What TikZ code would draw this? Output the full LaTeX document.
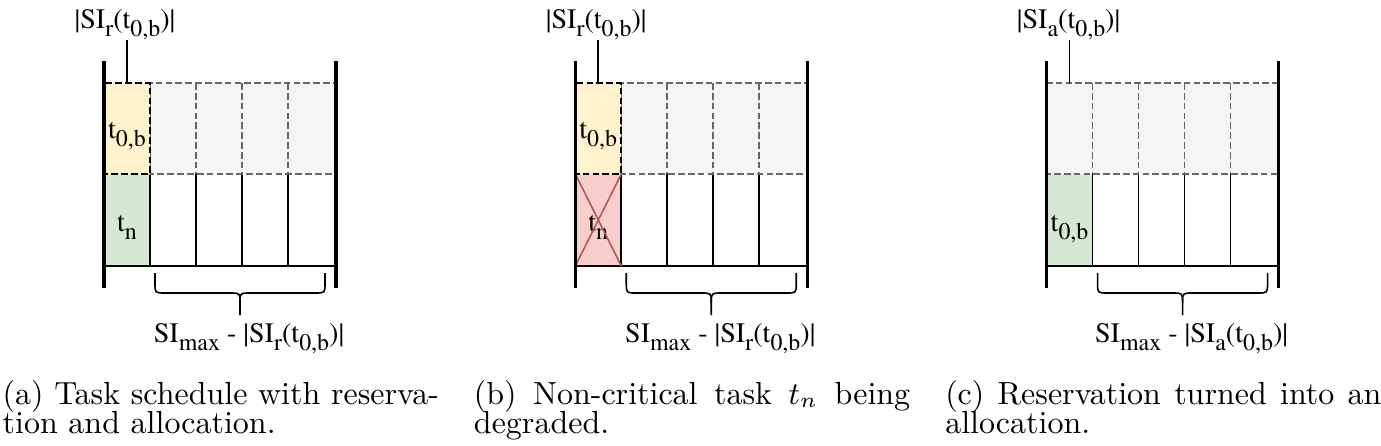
\documentclass[tikz,border=0pt]{standalone}
\usepackage{fontspec}
\usepackage{graphicx}
\newfontfamily\tnr{texgyretermes-regular.otf}
\newfontfamily\capf{lmroman10-regular.otf}
\definecolor{yfill}{HTML}{FFF2CC}
\definecolor{gfill}{HTML}{D5E8D4}
\definecolor{rfill}{HTML}{F8CECC}
\definecolor{rline}{HTML}{B85450}
\definecolor{lgray}{HTML}{F5F5F5}
\definecolor{dgray}{HTML}{666666}
\newcommand\dsub[1]{\raisebox{-2.3pt}{\fontsize{6.8}{7}\selectfont #1}}
\begin{document}
\begin{tikzpicture}[x=0.01cm,y=-0.01cm,
  bar/.style={line width=1pt},
  thinl/.style={line width=0.45pt},
  dsh/.style={line width=0.45pt, dash pattern=on 1.9pt off 0.9pt},
  lbl/.style={font=\tnr\fontsize{8}{9}\selectfont, inner sep=0pt, anchor=base},
  capt/.style={font=\capf\fontsize{9.1}{10}\selectfont, inner sep=0pt, anchor=base west},
  brace/.style={line width=0.45pt}]
\useasboundingbox (0,0) rectangle (1381,445);

% ---------- panel (a)
\begin{scope}
\fill[gfill] (104,174) rectangle (150,266);
\draw[thinl] (150,174) -- (150,266) (196,174) -- (196,266) (242,174) -- (242,266) (288,174) -- (288,266) (104,266) -- (336,266);
\filldraw[dsh, draw=dgray, fill=lgray] (150,83) rectangle (336,174);
\draw[dsh, draw=dgray] (196,83) -- (196,174) (242,83) -- (242,174) (288,83) -- (288,174);
\filldraw[dsh, draw=black, fill=yfill] (104,83) rectangle (150,174);
\node[lbl] (a0b) at (127,138) {t\dsub{0,b}};
\node[lbl] (atn) at (127,231) {t\dsub{n}};
\draw[bar] (104,61) -- (104,288) (336,61) -- (336,288);
\node[lbl] (atop) at (125,28) {|SI\dsub{r}(t\dsub{0,b})|};
\coordinate (alt) at (127,40);
\coordinate (alb) at (127,83);
\draw[thinl] (alt) -- (alb);
\draw[brace] (155,273) -- (155,283) .. controls (155,293) .. (165,293) -- (230,293) .. controls (240,293) .. (240,303) -- (240,315);
\draw[brace] (325,273) -- (325,283) .. controls (325,293) .. (315,293) -- (250,293) .. controls (240,293) .. (240,303);
\node[lbl] (abot) at (249,342) {SI\dsub{max} - |SI\dsub{r}(t\dsub{0,b})|};
\node[capt] (acap1) at (2,404) {\makebox[4.36cm][s]{(a) Task schedule with reserva-}};
\node[capt] (acap2) at (2,433) {tion and allocation.};
\end{scope}

% ---------- panel (b)
\begin{scope}[xshift=4.71cm]
\fill[rfill] (104,174) rectangle (150,266);
\draw[thinl] (150,174) -- (150,266) (196,174) -- (196,266) (242,174) -- (242,266) (288,174) -- (288,266) (104,266) -- (336,266);
\filldraw[dsh, draw=dgray, fill=lgray] (150,83) rectangle (336,174);
\draw[dsh, draw=dgray] (196,83) -- (196,174) (242,83) -- (242,174) (288,83) -- (288,174);
\filldraw[dsh, draw=black, fill=yfill] (104,83) rectangle (150,174);
\node[lbl] (b0b) at (127,138) {t\dsub{0,b}};
\node[lbl] (btn) at (127,231) {t\dsub{n}};
\draw[thinl, rline] (104,174) -- (150,266) (150,174) -- (104,266);
\draw[bar] (104,61) -- (104,288) (336,61) -- (336,288);
\node[lbl] (btop) at (125,28) {|SI\dsub{r}(t\dsub{0,b})|};
\coordinate (blt) at (127,40);
\coordinate (blb) at (127,83);
\draw[thinl] (blt) -- (blb);
\draw[brace] (155,273) -- (155,283) .. controls (155,293) .. (165,293) -- (230,293) .. controls (240,293) .. (240,303) -- (240,315);
\draw[brace] (325,273) -- (325,283) .. controls (325,293) .. (315,293) -- (250,293) .. controls (240,293) .. (240,303);
\node[lbl] (bbot) at (249,342) {SI\dsub{max} - |SI\dsub{r}(t\dsub{0,b})|};
\node[capt] (bcap1) at (2,404) {\makebox[4.36cm][s]{(b) Non-critical task $t_n$ being}};
\node[capt] (bcap2) at (2,433) {degraded.};
\end{scope}

% ---------- panel (c)
\begin{scope}[xshift=9.42cm]
\fill[gfill] (104,174) rectangle (150,266);
\draw[thinl] (150,174) -- (150,266) (196,174) -- (196,266) (242,174) -- (242,266) (288,174) -- (288,266) (104,266) -- (336,266);
\filldraw[dsh, draw=dgray, fill=lgray] (104,83) rectangle (336,174);
\draw[dsh, draw=dgray] (150,83) -- (150,174) (196,83) -- (196,174) (242,83) -- (242,174) (288,83) -- (288,174);
\node[lbl] (c0b) at (127,231) {t\dsub{0,b}};
\draw[bar] (104,61) -- (104,288) (336,61) -- (336,288);
\node[lbl] (ctop) at (126,28) {|SI\dsub{a}(t\dsub{0,b})|};
\coordinate (clt) at (127,40);
\coordinate (clb) at (127,83);
\draw[thinl] (clt) -- (clb);
\draw[brace] (155,273) -- (155,283) .. controls (155,293) .. (165,293) -- (230,293) .. controls (240,293) .. (240,303) -- (240,315);
\draw[brace] (325,273) -- (325,283) .. controls (325,293) .. (315,293) -- (250,293) .. controls (240,293) .. (240,303);
\node[lbl] (cbot) at (249,342) {SI\dsub{max} - |SI\dsub{a}(t\dsub{0,b})|};
\node[capt] (ccap1) at (2,404) {\makebox[4.36cm][s]{(c) Reservation turned into an}};
\node[capt] (ccap2) at (2,433) {allocation.};
\end{scope}
\end{tikzpicture}
\end{document}
